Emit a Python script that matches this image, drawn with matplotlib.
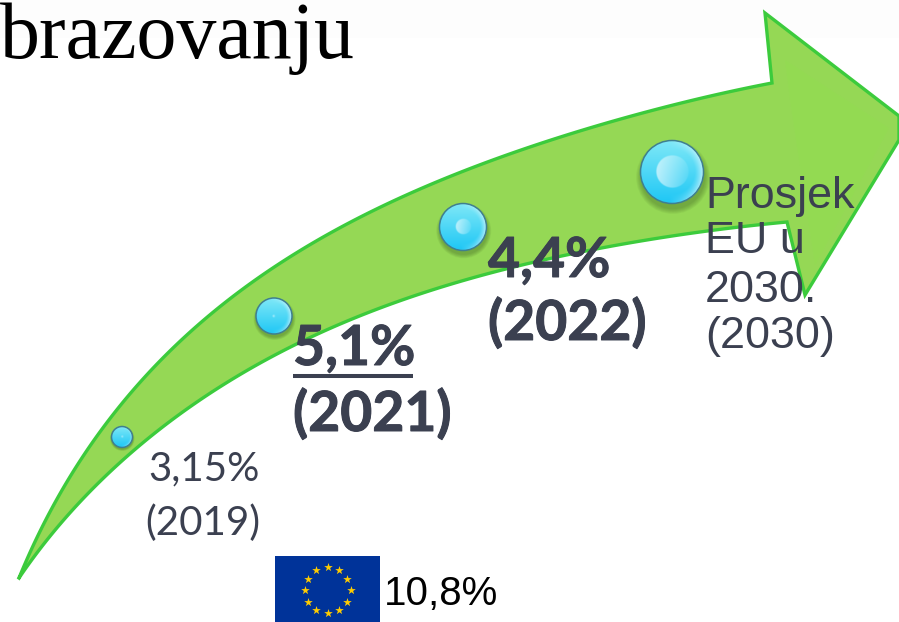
import numpy as np
import matplotlib
matplotlib.use("Agg")
import matplotlib.pyplot as plt
import matplotlib.patheffects as pe
from matplotlib.patches import Circle, Ellipse, Polygon, Rectangle

title = "brazovanju"
eu_label = "10,8%"
bold_labels = ["5,1%", "(2021)", "4,4%", "(2022)"]
small_labels = ["3,15%", "(2019)"]
arial_labels = ["Prosjek", "EU u", "2030.", "(2030)"]

# arrow outline in picture pixels
upper_edge = [(19, 578), (43, 527), (80, 460), (123, 400), (180, 345), (263, 273),
              (347, 223), (420, 190), (480, 165), (680, 103), (772, 83)]
lower_edge = [(787, 222), (680, 235), (600, 247), (480, 278), (420, 295), (380, 307),
              (313, 333), (200, 402), (133, 453), (67, 513), (19, 578)]
head_top = [(765, 13), (899, 116), (899, 140), (805, 295)]

# bubbles: x, y, radius, size of the inner disc
bubbles = [(122, 437, 10.5, 0.15), (274, 316, 18, 0.1), (463, 227, 23.5, 0.35), (672, 172, 31.5, 0.53)]


def smooth(points, deg=5, n=200):
    # one polynomial per edge, so the traced points don't give lumps
    p = np.array(points, dtype=float)
    s = np.r_[0, np.cumsum(np.hypot(*np.diff(p, axis=0).T))]
    s = s / s[-1]
    w = np.ones(len(p))
    w[[0, -1]] = 20
    t = np.linspace(0, 1, n)
    return np.c_[np.polyval(np.polyfit(s, p[:, 0], deg, w=w), t),
                 np.polyval(np.polyfit(s, p[:, 1], deg, w=w), t)]


def bubble(ax, x, y, r, disc):
    # soft shadow
    for k in range(6):
        ax.add_patch(Ellipse((x + 0.03 * r, y + 0.16 * r), 2 * r * (1.02 + 0.03 * k), 2 * r * (1.02 + 0.03 * k),
                             color="#3a5a20", alpha=0.07, lw=0, zorder=3))
    n = 160
    yy, xx = np.mgrid[-1:1:n * 1j, -1:1:n * 1j]
    top = np.array([0.50, 0.91, 0.97])
    bot = np.array([0.12, 0.78, 0.96])
    t = np.clip((yy + 1) / 2, 0, 1)[..., None]
    img = top * (1 - t) + bot * t
    # rim light on the right
    rr = np.hypot(xx, yy)
    rim = np.clip((rr - 0.72) / 0.28, 0, 1) * np.clip(xx + 0.1, 0, 1)
    img = img + (1 - img) * (0.6 * rim)[..., None]
    # inner disc, brighter on its left
    inside = np.clip((disc - rr) * r, 0, 1)
    shade = np.clip(0.5 - xx / disc * 0.5, 0, 1) * 0.55 + 0.08
    img = img + (1 - img) * (inside * shade)[..., None]
    im = ax.imshow(img, extent=(x - r, x + r, y + r, y - r), origin="upper", zorder=4, interpolation="bilinear")
    im.set_clip_path(Circle((x, y), r, transform=ax.transData))
    ax.add_patch(Circle((x, y), r, fc="none", ec="#3f7f90", lw=1.1, zorder=5))


fig = plt.figure(figsize=(8.99, 6.22), dpi=100)
ax = fig.add_axes([0, 0, 1, 1])

# faint off-white band behind the title
ax.add_patch(Rectangle((0, 0), 899, 38, fc="#fdfdfd", ec="none", zorder=0))

outline = np.vstack([smooth(upper_edge), head_top, smooth(lower_edge)])
ax.add_patch(Polygon(outline, closed=True, fc="#95d855", ec="#3ccb3c", lw=2.4, joinstyle="miter", zorder=1))
# lighter bevel inside the head
ax.add_patch(Polygon([(785, 60), (889, 128), (815, 265), (790, 100)], closed=True,
                     fc="#93dc52", ec="none", alpha=0.7, zorder=2))

for b in bubbles:
    bubble(ax, *b)

dark = "#3b4050"
ax.text(0, 58, title, family="Liberation Serif", fontsize=57.5, color="black", va="baseline", zorder=6)

lato_bold = dict(family="Lato", weight="bold", fontsize=39.8, color=dark, va="baseline", zorder=6,
                 path_effects=[pe.withStroke(linewidth=0.7, foreground=dark)])
ax.text(293, 365, bold_labels[0], **lato_bold)
ax.text(293, 431, bold_labels[1], **lato_bold)
ax.text(488, 277, bold_labels[2], **lato_bold)
ax.text(488, 340, bold_labels[3], **lato_bold)
ax.plot([293, 413], [376, 376], color=dark, lw=2.9, solid_capstyle="butt", zorder=6)

lato = dict(family="Lato", fontsize=29, color=dark, va="baseline", zorder=6)
ax.text(148, 480, small_labels[0], **lato)
ax.text(145, 535, small_labels[1], **lato)

arial = dict(family="Liberation Sans", fontsize=32.3, color=dark, va="baseline", zorder=6)
for label, base in zip(arial_labels, [208, 253, 302, 348]):
    ax.text(705, base, label, **arial)

# EU flag
ax.add_patch(Rectangle((275, 556), 105, 66, fc="#003399", ec="none", zorder=6))
angles = np.deg2rad(np.arange(0, 360, 30))
ax.scatter(327.5 + 23 * np.cos(angles), 590 + 23 * np.sin(angles), marker="*", s=42, c="#ffcc00", lw=0, zorder=7)
ax.text(384, 605, eu_label, family="Liberation Sans", fontsize=29, color="black", va="baseline", zorder=6)

ax.set_xlim(0, 899)
ax.set_ylim(622, 0)
ax.set_aspect("auto")
ax.axis("off")
fig.savefig("out.png", dpi=100)
